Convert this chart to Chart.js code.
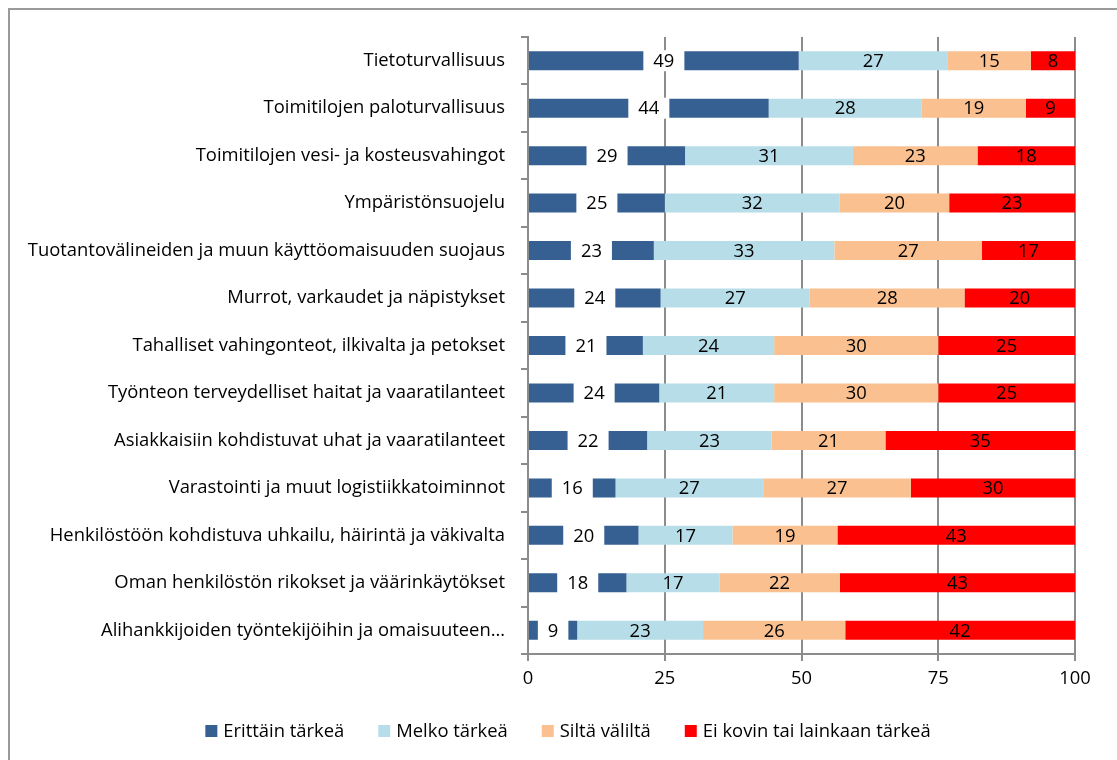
<!DOCTYPE html>
<html><head><meta charset="utf-8">
<script src="https://cdn.jsdelivr.net/npm/chart.js@4.4.1/dist/chart.umd.min.js"></script>
<style>
html,body{margin:0;padding:0;background:#fff;overflow:hidden}
#frame{position:absolute;left:8px;top:8px;width:1140px;height:780px;border:2px solid #9a9a9a;box-sizing:border-box}
#wrap{position:absolute;left:0;top:0;width:1117px;height:760px}
</style></head><body>
<div id="frame"></div>
<div id="wrap"><canvas id="c" width="1117" height="760"></canvas></div>
<script>
const categories = [
  "Tietoturvallisuus",
  "Toimitilojen paloturvallisuus",
  "Toimitilojen vesi- ja kosteusvahingot",
  "Ympäristönsuojelu",
  "Tuotantovälineiden ja muun käyttöomaisuuden suojaus",
  "Murrot, varkaudet ja näpistykset",
  "Tahalliset vahingonteot, ilkivalta ja petokset",
  "Työnteon terveydelliset haitat ja vaaratilanteet",
  "Asiakkaisiin kohdistuvat uhat ja vaaratilanteet",
  "Varastointi ja muut logistiikkatoiminnot",
  "Henkilöstöön kohdistuva uhkailu, häirintä ja väkivalta",
  "Oman henkilöstön rikokset ja väärinkäytökset",
  "Alihankkijoiden työntekijöihin ja omaisuuteen…"
];
const erittainTarkea = [49, 44, 29, 25, 23, 24, 21, 24, 22, 16, 20, 18, 9];
const melkoTarkea    = [27, 28, 31, 32, 33, 27, 24, 21, 23, 27, 17, 17, 23];
const siltaValilta   = [15, 19, 23, 20, 27, 28, 30, 30, 21, 27, 19, 22, 26];
const eiKovinTarkea  = [8, 9, 18, 23, 17, 20, 25, 25, 35, 30, 43, 43, 42];
const seriesNames = ["Erittäin tärkeä", "Melko tärkeä", "Siltä väliltä", "Ei kovin tai lainkaan tärkeä"];
const seriesColors = ["#376092", "#B7DEE8", "#FAC090", "#FF0000"];
const xTicks = [0, 25, 50, 75, 100];

const FONT = "'Open Sans', sans-serif";
// size the font so the longest label is as wide as in the reference (~478px)
const mctx = document.createElement('canvas').getContext('2d');
mctx.font = "20px " + FONT;
const FS = Math.round(20 * 478 / mctx.measureText(categories[4]).width * 10) / 10;

const raw = [erittainTarkea, melkoTarkea, siltaValilta, eiKovinTarkea];
const totals = categories.map((_, i) => raw.reduce((s, a) => s + a[i], 0));
const datasets = raw.map((arr, k) => ({
  label: seriesNames[k],
  data: arr.map((v, i) => v / totals[i] * 100),
  rawValues: arr,
  backgroundColor: seriesColors[k],
  borderWidth: 0,
  barPercentage: 0.4,
  categoryPercentage: 1.0
}));

const valueLabels = {
  id: 'valueLabels',
  afterDatasetsDraw(chart) {
    const ctx = chart.ctx;
    ctx.save();
    ctx.font = FS + "px " + FONT;
    ctx.textAlign = 'center';
    ctx.textBaseline = 'middle';
    chart.data.datasets.forEach((ds, di) => {
      const meta = chart.getDatasetMeta(di);
      meta.data.forEach((bar, i) => {
        const cx = (bar.x + bar.base) / 2;
        const cy = bar.y;
        const txt = String(ds.rawValues[i]);
        if (di === 0) {
          const w = ctx.measureText(txt).width + 20;
          ctx.fillStyle = '#fff';
          ctx.fillRect(cx - w / 2, cy - bar.height / 2 - 1, w, bar.height + 2);
        }
        ctx.fillStyle = '#000';
        ctx.fillText(txt, cx, cy + 1);
      });
    });
    ctx.restore();
  }
};

const customLegend = {
  id: 'customLegend',
  afterDraw(chart) {
    const ctx = chart.ctx;
    ctx.save();
    ctx.font = FS + "px " + FONT;
    ctx.textBaseline = 'middle';
    ctx.textAlign = 'left';
    const box = 12, gapText = 6, gapItem = 34;
    const widths = seriesNames.map(n => box + gapText + ctx.measureText(n).width);
    const total = widths.reduce((a, b) => a + b, 0) + gapItem * (widths.length - 1);
    let x = 568 - total / 2;
    const cy = 731;
    seriesNames.forEach((n, k) => {
      ctx.fillStyle = seriesColors[k];
      ctx.fillRect(x, cy - box / 2, box, box);
      ctx.fillStyle = '#000';
      ctx.fillText(n, x + box + gapText, cy + 1);
      x += widths[k] + gapItem;
    });
    ctx.restore();
  }
};

new Chart(document.getElementById('c'), {
  type: 'bar',
  data: { labels: categories, datasets },
  plugins: [valueLabels, customLegend],
  options: {
    indexAxis: 'y',
    responsive: false,
    animation: false,
    layout: { padding: { top: 37, right: 42, left: 0, bottom: 0 } },
    plugins: { legend: { display: false }, tooltip: { enabled: false } },
    scales: {
      x: {
        stacked: true,
        min: 0, max: 100,
        afterBuildTicks(scale) { scale.ticks = xTicks.map(v => ({ value: v })); },
        afterFit(scale) { scale.height = 106; },
        grid: { color: '#8c8c8c', lineWidth: 2, tickLength: 7, drawTicks: true },
        border: { display: true, color: '#8c8c8c', width: 2 },
        ticks: { color: '#000', font: { family: FONT, size: FS }, padding: 7, maxRotation: 0 }
      },
      y: {
        stacked: true,
        afterFit(scale) { scale.width = 528; },
        grid: { offset: true, drawOnChartArea: false, color: '#8c8c8c', lineWidth: 2, tickLength: 7 },
        border: { display: true, color: '#8c8c8c', width: 2 },
        ticks: { color: '#000', font: { family: FONT, size: FS }, padding: 16, autoSkip: false }
      }
    }
  }
});
</script>
</body></html>
